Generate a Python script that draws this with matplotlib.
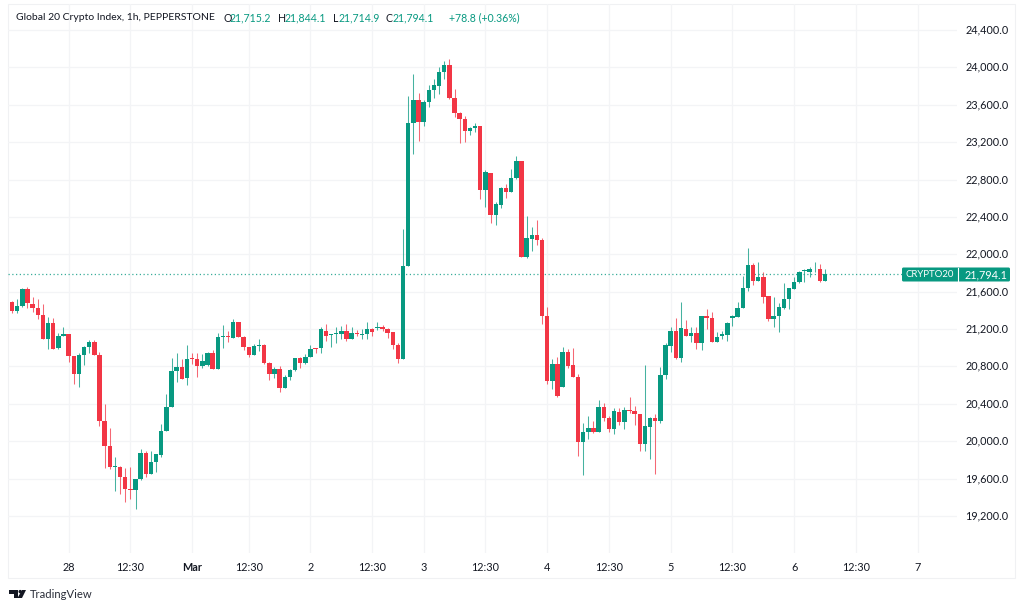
import matplotlib
matplotlib.use("Agg")
import matplotlib.pyplot as plt
from matplotlib.patches import Rectangle, Polygon, FancyBboxPatch

plt.rcParams['font.family'] = ['Lato', 'DejaVu Sans']

open_ = [21486,21393,21450,21629,21472,21425,21354,21094,21261,20994,21129,21144,20912,20719,20926,21012,21062,20926,20216,19952,19724,19727,19617,19492,19474,19592,19877,19645,19777,19852,20106,20366,20755,20798,20673,20890,20880,
20801,20812,20940,20773,21115,21126,21108,21276,21119,21008,20922,21019,21029,20833,20723,20776,20573,20683,20762,20890,20837,20905,20997,20994,21179,21140,21151,21144,21179,21097,21158,21140,21144,21201,21212,21226,21204,21165,21029,20880,
21871,23405,23651,23412,23626,23762,23801,23951,24025,23672,23515,23448,23319,23355,23373,22688,22873,22420,22527,22713,22670,22813,22998,21974,22164,22203,22149,
21336,20641,20823,20584,20951,20812,20687,19995,20102,20138,20102,20370,20248,20131,20316,20209,20334,20323,20295,19970,20155,20248,20213,20708,21022,
21179,20890,21201,21122,21161,21054,21340,21318,21062,21122,21140,21318,21333,21422,21639,21882,21714,21757,21554,21311,21336,21429,21518,21632,21700,21821,21811,21850,21846,21715.2]
high = [21497,21518,21636,21647,21540,21522,21465,21329,21315,21154,21226,21144,20912,20940,21019,21086,21086,20951,20398,20141,19831,19738,19710,19720,19596,19917,19895,19892,19863,20184,20505,20887,20940,20880,21026,20940,20940,
20933,20951,20976,21154,21243,21179,21311,21276,21126,21008,21040,21090,21037,20844,20798,20805,20705,20769,20890,20897,20930,21029,21001,21226,21251,21147,21219,21236,21251,21222,21190,21197,21272,21208,21272,21240,21208,21165,21047,22267,
23694,23926,23722,23651,23811,23876,24008,24068,24086,23765,23526,23480,23358,23401,23373,22898,22873,22563,22724,22748,22909,23052,22998,22413,22288,22367,22171,
21432,20880,20905,21004,20983,20994,20716,20191,20270,20216,20441,20405,20270,20352,20359,20366,20473,20380,20295,20812,20259,20287,20794,21047,21218,
21315,21490,21293,21218,21226,21340,21411,21379,21165,21183,21275,21350,21486,21768,22064,21903,21918,21807,21554,21539,21475,21696,21636,21761,21825,21839,21861,21914,21900,21844.1]
low = [21375,21375,21440,21422,21386,21308,21094,20990,20990,20990,21126,20844,20609,20584,20812,20947,20926,20166,19710,19699,19471,19431,19353,19381,19274,19585,19620,19645,19670,19831,20106,20366,20637,20669,20605,20823,20691,
20787,20808,20769,20769,21001,21065,21104,21119,20976,20897,20922,20969,20823,20655,20676,20523,20569,20655,20755,20787,20826,20901,20940,20947,21076,21012,21047,21097,21076,21094,21129,21090,21097,21126,21190,21183,21108,20987,20833,20880,
21871,23070,23216,23376,23580,23676,23712,23872,23665,23473,23187,23198,23273,23312,22588,22510,22338,22310,22499,22606,22666,22802,21974,21964,22039,22103,21254,
20612,20559,20477,20584,20787,20683,19842,19642,20020,20084,20098,20220,20102,20077,20173,20134,20305,20177,19899,19899,19806,19653,20191,20669,20958,
20880,20851,21122,21065,20987,20976,21204,21065,21058,21094,21076,21233,21325,21422,21607,21675,21714,21475,21286,21218,21172,21418,21411,21625,21689,21700,21761,21807,21700,21714.9]
close = [21393,21450,21629,21475,21422,21354,21094,21261,20990,21126,21144,20912,20719,20922,21012,21062,20926,20216,19952,19720,19731,19617,19492,19474,19596,19877,19645,19777,19859,20109,20370,20755,20798,20669,20883,20880,20801,
20855,20940,20773,21115,21126,21111,21276,21119,21008,20926,21019,21029,20833,20723,20776,20573,20683,20765,20890,20837,20905,20990,20987,21201,21129,21147,21158,21179,21094,21158,21144,21147,21197,21169,21219,21201,21161,21029,20880,21871,
23408,23651,23412,23633,23762,23811,23951,24025,23669,23515,23448,23316,23348,23373,22688,22880,22420,22538,22713,22663,22816,22998,21974,22171,22203,22149,21340,
20641,20823,20480,20951,20801,20683,19995,20102,20138,20102,20370,20248,20131,20320,20209,20330,20323,20295,19970,20163,20252,20216,20708,21026,21183,
20890,21211,21122,21161,21054,21340,21318,21065,21119,21144,21268,21340,21429,21643,21882,21714,21757,21547,21311,21340,21432,21522,21636,21704,21811,21832,21846,21857,21711,21794.1]

time_positions = [11,23,35,46,58,70,80,92,104,116,128,140,152,164,176]
time_labels = ['28','12:30','Mar','12:30','2','12:30','3','12:30','4','12:30','5','12:30','6','12:30','7']
price_ticks = [19200,19600,20000,20400,20800,21200,21600,22000,22400,22800,23200,23600,24000,24400]
last_price = 21794.1

UP = '#089981'
DOWN = '#F23645'
GRID = '#f3f4f6'
INK = '#131722'
W, H = 1024, 610

fig = plt.figure(figsize=(W/100, H/100), dpi=100, facecolor='white')

# pixel overlay for chrome (frame, header, logo)
bg = fig.add_axes([0, 0, 1, 1], zorder=0)
bg.set_xlim(0, W); bg.set_ylim(H, 0); bg.axis('off')
bg.add_patch(Rectangle((8, 4), 1007, 574, fill=False, ec='#f0f1f3', lw=0.8))

L, R, T, B = 8, 957, 4, 553
ax = fig.add_axes([L/W, 1-B/H, (R-L)/W, (B-T)/H], zorder=1)
ax.patch.set_alpha(0)
for s in ax.spines.values():
    s.set_visible(False)

px_per_bar = 5.146
ax.set_xlim((L-12)/px_per_bar, (R-12)/px_per_bar)
ax.set_ylim(24400-(B-30)*400/37.38, 24400-(T-30)*400/37.38)

ax.grid(True, color=GRID, lw=0.9, zorder=0)
ax.set_axisbelow(True)

for i, (o, h, l, c) in enumerate(zip(open_, high, low, close)):
    col = UP if c >= o else DOWN
    ax.vlines(i, l, h, color=col, lw=0.75, alpha=0.75, zorder=2)
    ax.bar(i, max(abs(c-o), 8), bottom=min(o, c), width=0.86, color=col, lw=0, zorder=3)

ax.axhline(last_price, color=UP, lw=0.9, ls=(0, (1, 2)), alpha=0.8, zorder=2.5)

ax.set_xticks(time_positions)
ax.set_xticklabels(time_labels, fontsize=7.8, color=INK)
ax.get_xticklabels()[2].set_fontweight('bold')
ax.yaxis.tick_right()
ax.set_yticks(price_ticks)
ax.set_yticklabels([f'{v:,.1f}' for v in price_ticks], fontsize=7.8, color=INK)
for lab in ax.get_yticklabels():
    lab.set_verticalalignment('center')
ax.tick_params(axis='x', length=0, pad=6.5)
ax.tick_params(axis='y', length=0, pad=6)

# front overlay: header, price tag, logo
fg = fig.add_axes([0, 0, 1, 1], zorder=2)
fg.set_xlim(0, W); fg.set_ylim(H, 0); fg.axis('off'); fg.patch.set_alpha(0)

HDR = 7.6
fg.text(16, 18, 'Global 20 Crypto Index, 1h, PEPPERSTONE', fontsize=7.45, color=INK, va='center')
for x, t, col in [(223, 'O', INK), (230, '21,715.2', UP), (278, 'H', INK), (285, '21,844.1', UP),
                  (333, 'L', INK), (338.5, '21,714.9', UP), (386, 'C', INK), (393, '21,794.1', UP),
                  (449, '+78.8 (+0.36%)', UP)]:
    fg.text(x, 18, t, fontsize=HDR, color=col, va='center')

fg.add_patch(FancyBboxPatch((902, 267.5), 108, 14, boxstyle='round,pad=0,rounding_size=1.5', fc=UP, ec='none'))
fg.plot([957.5, 957.5], [267.5, 281.5], color='white', lw=0.8)
fg.text(929.5, 274.5, 'CRYPTO20', fontsize=6.9, color='white', va='center', ha='center')
fg.text(985.5, 274.5, '21,794.1', fontsize=7.8, color='white', va='center', ha='center')

# TradingView logo
fg.add_patch(Polygon([(9, 590), (18, 590), (18, 598), (14, 598), (14, 593.5), (9, 593.5)], fc='#131722', ec='none'))
fg.add_patch(Polygon([(22, 590), (26, 590), (22, 598), (17.5, 598)], fc='#131722', ec='none'))
fg.add_patch(plt.Circle((20.2, 591.6), 1.7, fc='#131722', ec='none'))
fg.text(29.5, 594, 'TradingView', fontsize=8.1, color='#2a2e39', va='center')

fig.savefig('out.png', dpi=100)
